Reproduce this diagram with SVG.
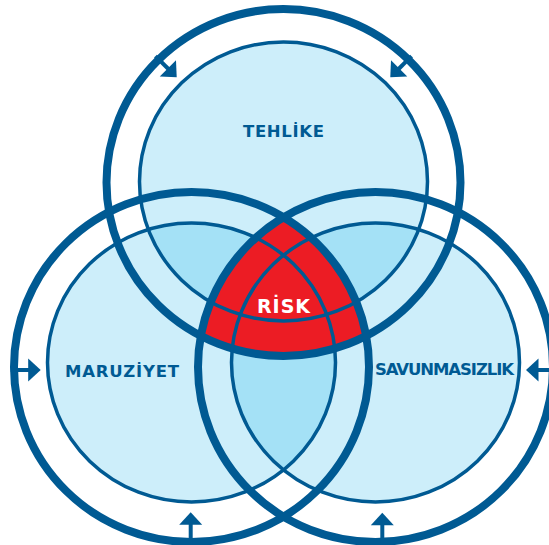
<svg xmlns="http://www.w3.org/2000/svg" xmlns:xlink="http://www.w3.org/1999/xlink" width="549" height="545" viewBox="0 0 549 545">
<style>
.o{fill:none;stroke:#005a93;stroke-width:8}
.i{fill:none;stroke:#005a93;stroke-width:3.5}
.lb{fill:#cdeefa}
.db{fill:#a4e1f6}
.lab{font-family:"DejaVu Sans",sans-serif;font-weight:bold;font-size:16.5px;fill:#005a93;text-anchor:middle}
.rk{font-family:"DejaVu Sans",sans-serif;font-weight:bold;font-size:19px;fill:#ffffff;text-anchor:middle}
</style>
<defs>
<clipPath id="cTi"><ellipse cx="283.5" cy="181.5" rx="144" ry="139.5"/></clipPath>
<clipPath id="cLi"><ellipse cx="191.5" cy="362.5" rx="144" ry="139.5"/></clipPath>
<clipPath id="cTo"><ellipse cx="283.5" cy="182.5" rx="177" ry="173.5"/></clipPath>
<clipPath id="cRo"><ellipse cx="375.5" cy="367" rx="177.5" ry="175"/></clipPath>
<g id="arr"><line x1="-30" y1="0" x2="-11" y2="0" stroke="#005a93" stroke-width="4"/><polygon points="-12.5,-11.5 0,0 -12.5,11.5" fill="#005a93"/></g>
</defs>
<rect width="549" height="545" fill="#ffffff"/>
<g id="fills">
<ellipse class="lb" cx="283.5" cy="181.5" rx="144" ry="139.5"/>
<ellipse class="lb" cx="191.5" cy="362.5" rx="144" ry="139.5"/>
<ellipse class="lb" cx="375.5" cy="362.5" rx="144" ry="139.5"/>
<g clip-path="url(#cTi)">
<ellipse class="db" cx="191.5" cy="362.5" rx="144" ry="139.5"/>
<ellipse class="db" cx="375.5" cy="362.5" rx="144" ry="139.5"/>
</g>
<g clip-path="url(#cLi)"><ellipse class="db" cx="375.5" cy="362.5" rx="144" ry="139.5"/></g>
</g>
<g id="risk-fill" clip-path="url(#cTo)"><g clip-path="url(#cRo)"><ellipse cx="191.5" cy="367" rx="177.5" ry="175" fill="#ec1c24"/></g></g>
<g id="tehlike">
<ellipse class="o" cx="283.5" cy="182.5" rx="177" ry="173.5"/>
<ellipse class="i" cx="283.5" cy="181.5" rx="144" ry="139.5"/>
<text class="lab" x="283.5" y="137" textLength="81">TEHLİKE</text>
</g>
<g id="maruziyet">
<ellipse class="o" cx="191.5" cy="367" rx="177.5" ry="175"/>
<ellipse class="i" cx="191.5" cy="362.5" rx="144" ry="139.5"/>
<text class="lab" x="122" y="377" textLength="114">MARUZİYET</text>
</g>
<g id="savunmasizlik">
<ellipse class="o" cx="375.5" cy="367" rx="177.5" ry="175"/>
<ellipse class="i" cx="375.5" cy="362.5" rx="144" ry="139.5"/>
<text class="lab" x="444.5" y="375" textLength="139">SAVUNMASIZLIK</text>
</g>
<g id="risk">
<text class="rk" x="283.5" y="313" textLength="53">RİSK</text>
</g>
<g id="connectors">
<use xlink:href="#arr" transform="translate(176.7,77.3) rotate(45)"/>
<use xlink:href="#arr" transform="translate(390.3,77.3) rotate(135)"/>
<use xlink:href="#arr" transform="translate(40.7,370)"/>
<use xlink:href="#arr" transform="translate(190.7,512.3) rotate(-90)"/>
<use xlink:href="#arr" transform="translate(526,370) rotate(180)"/>
<use xlink:href="#arr" transform="translate(382.3,512.7) rotate(-90)"/>
</g>
</svg>
